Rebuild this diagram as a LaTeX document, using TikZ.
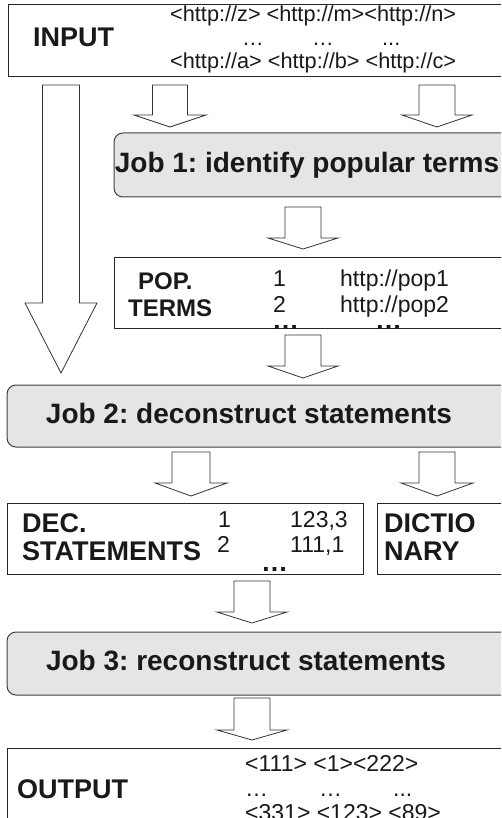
\documentclass[tikz,border=0pt]{standalone}
\usepackage{fontspec}
\setmainfont{Liberation Sans}
\frenchspacing
\newcommand\blkarrow[6]{% cx, top, headstart, tip, shaft half, head half
  \draw[blk] (#1-#5,#2) -- (#1-#5,#3) -- (#1-#6,#3) -- (#1,#4) -- (#1+#6,#3) -- (#1+#5,#3) -- (#1+#5,#2) -- cycle;}
\begin{document}
\begin{tikzpicture}[x=1pt,y=-1pt,
  box/.style={draw=black!85, line width=1pt, fill=white, anchor=north west, inner sep=0, outer sep=0},
  jobbox/.style={box, draw=black!75, fill=gray!20, rounded corners=9pt},
  blk/.style={draw=black!80, fill=white, line width=0.8pt, line join=miter},
  bl/.style={font=\fontsize{27}{27}\selectfont\bfseries, text=black!90, anchor=base west, inner sep=0},
  bls/.style={font=\fontsize{24}{24}\selectfont\bfseries, text=black!90, anchor=base west, inner sep=0},
  jt/.style={font=\fontsize{28}{28}\selectfont\bfseries, text=black!90, anchor=base, inner sep=0},
  rg/.style={font=\fontsize{21.7}{22}\selectfont, text=black!90, anchor=base west, inner sep=0},
  rgm/.style={font=\fontsize{23}{23}\selectfont, text=black!90, anchor=base west, inner sep=0},
  dots/.style={font=\fontsize{27}{27}\selectfont\bfseries, text=black!90, anchor=base west, inner sep=0, text height=4pt, text depth=0pt}]
\clip (0,0) rectangle (501,818);
\fill[white] (0,0) rectangle (501,818);

% boxes
\node[box, minimum width=512pt, minimum height=72pt] (in) at (8,5) {};
\node[jobbox, minimum width=406pt, minimum height=64pt] (job1) at (114,133) {};
\node[box, minimum width=406pt, minimum height=71pt] (pop) at (114,257) {};
\node[jobbox, minimum width=513pt, minimum height=62pt] (job2) at (7,385) {};
\node[box, minimum width=356pt, minimum height=71pt] (dec) at (7,503) {};
\node[box, minimum width=143pt, minimum height=71pt] (dict) at (377,503) {};
\node[jobbox, minimum width=513pt, minimum height=63pt] (job3) at (7,632) {};
\node[box, minimum width=513pt, minimum height=90pt] (out) at (7,748) {};

% block arrows
\blkarrow{61}{85}{303}{373}{18.5}{36}
\blkarrow{170}{85}{115}{127}{17.5}{36}
\blkarrow{437}{85}{115}{127}{18}{35}
\blkarrow{303}{207}{238}{249}{18}{35}
\blkarrow{303}{335}{366}{378}{18}{35}
\blkarrow{191}{452}{483}{496}{19}{36}
\blkarrow{437}{452}{483}{496}{18}{36}
\blkarrow{252}{581}{612}{623}{18}{35}
\blkarrow{252}{698}{730}{740}{18}{35}

% INPUT
\node[bl] (inlab) at (33,47) {INPUT};
\node[rg] (in1) at (170,22) {<http://z> <http://m><http://n>};
\node[rg] (ind1) at (242,46) {…};
\node[rg] (ind2) at (312,46) {…};
\node[rg] (ind3) at (382,46) {...};
\node[rg] (in3) at (170,69) {<http://a> <http://b> <http://c>};

% Job 1
\node[jt] (j1t) at (307,173) {Job 1: identify popular terms};

% POP TERMS
\node[bls] (popa) at (138,289) {POP.};
\node[bls] (popb) at (128,316) {TERMS};
\node[rgm] (p1) at (273,286) {1};
\node[rgm] (p2) at (273,312) {2};
\node[rgm] (pu1) at (340,286) {http://pop1};
\node[rgm] (pu2) at (340,312) {http://pop2};
\node[dots] (pd1) at (272,329) {…};
\node[dots] (pd2) at (375,329) {…};

% Job 2
\node[jt] (j2t) at (249,423) {Job 2: deconstruct statements};

% DEC STATEMENTS
\node[bl] (deca) at (22,532) {DEC.};
\node[bl] (decb) at (22,560) {STATEMENTS};
\node[rgm] (d1) at (218,527) {1};
\node[rgm] (d2) at (217,552) {2};
\node[rgm] (dv1) at (290,527) {123,3};
\node[rgm] (dv2) at (290,552) {111,1};
\node[dots] (dd) at (261,571) {…};

% DICTIONARY
\node[bl] (dica) at (384,532) {DICTIO};
\node[bl] (dicb) at (384,560) {NARY};

% Job 3
\node[jt] (j3t) at (246,670) {Job 3: reconstruct statements};

% OUTPUT
\node[bl] (outlab) at (17,798) {OUTPUT};
\node[rgm] (o1) at (245,771) {<111> <1><222>};
\node[rgm] (od1) at (245,796) {…};
\node[rgm] (od2) at (319,796) {…};
\node[rgm] (od3) at (393,796) {...};
\node[rgm] (o3) at (245,820) {<331> <123> <89>};
\end{tikzpicture}
\end{document}
